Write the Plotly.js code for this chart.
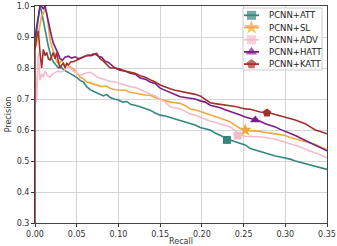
<!DOCTYPE html>
<html>
<head>
<meta charset="utf-8">
<script src="https://cdn.plot.ly/plotly-3.0.1.min.js"></script>
<style>html,body{margin:0;padding:0;background:#fff;}#chart{width:337px;height:246px;}</style>
</head>
<body>
<div id="chart"></div>
<script>
// ---- data ----
const seriesNames = ["PCNN+ATT", "PCNN+SL", "PCNN+ADV", "PCNN+HATT", "PCNN+KATT"];

const attRecall = [0,0.002,0.004,0.006,0.008,0.010,0.012,0.014,0.016,0.018,0.020,0.022,0.025,0.028,0.031,0.034,0.037,0.040,0.043,0.046,0.050,0.054,0.058,0.062,0.066,0.070,0.074,0.078,0.082,0.086,0.090,0.095,0.100,0.105,0.110,0.115,0.120,0.126,0.132,0.138,0.144,0.150,0.156,0.162,0.168,0.174,0.180,0.186,0.192,0.198,0.204,0.210,0.216,0.222,0.228,0.234,0.240,0.246,0.252,0.258,0.264,0.270,0.276,0.282,0.288,0.294,0.300,0.306,0.312,0.318,0.324,0.330,0.336,0.342,0.350];
const attPrecision = [0.88,0.92,0.97,1.0,0.98,0.95,0.92,0.89,0.87,0.85,0.83,0.82,0.81,0.80,0.805,0.795,0.79,0.785,0.78,0.775,0.77,0.76,0.755,0.74,0.73,0.725,0.72,0.713,0.71,0.715,0.705,0.70,0.697,0.69,0.692,0.682,0.68,0.675,0.67,0.664,0.655,0.648,0.645,0.64,0.636,0.632,0.625,0.62,0.616,0.608,0.604,0.60,0.59,0.582,0.575,0.568,0.562,0.558,0.552,0.54,0.535,0.529,0.524,0.519,0.516,0.513,0.51,0.506,0.50,0.496,0.49,0.487,0.482,0.478,0.473];

const slRecall = [0,0.002,0.004,0.006,0.008,0.010,0.012,0.014,0.016,0.018,0.020,0.022,0.024,0.026,0.029,0.032,0.035,0.038,0.041,0.044,0.047,0.050,0.054,0.058,0.062,0.066,0.070,0.075,0.080,0.085,0.090,0.096,0.102,0.108,0.114,0.120,0.126,0.132,0.138,0.144,0.150,0.156,0.162,0.168,0.174,0.180,0.186,0.192,0.198,0.204,0.210,0.216,0.222,0.228,0.234,0.240,0.246,0.252,0.258,0.264,0.270,0.276,0.282,0.288,0.294,0.300,0.306,0.312,0.318,0.324,0.330,0.336,0.342,0.350];
const slPrecision = [0.86,0.88,0.91,0.94,0.97,0.975,0.99,0.98,0.93,0.89,0.87,0.855,0.84,0.82,0.815,0.825,0.81,0.812,0.805,0.80,0.795,0.785,0.77,0.765,0.755,0.752,0.748,0.745,0.74,0.742,0.735,0.73,0.73,0.728,0.722,0.72,0.716,0.713,0.712,0.705,0.70,0.697,0.69,0.688,0.686,0.678,0.668,0.665,0.66,0.655,0.648,0.644,0.638,0.632,0.626,0.615,0.605,0.60,0.597,0.598,0.594,0.592,0.59,0.588,0.585,0.582,0.576,0.572,0.568,0.562,0.558,0.553,0.545,0.537];

const advRecall = [0,0.001,0.002,0.003,0.004,0.005,0.006,0.008,0.010,0.012,0.015,0.018,0.021,0.024,0.027,0.030,0.034,0.038,0.042,0.046,0.050,0.054,0.058,0.062,0.066,0.070,0.075,0.080,0.085,0.090,0.096,0.102,0.108,0.114,0.120,0.126,0.132,0.138,0.144,0.150,0.156,0.162,0.168,0.174,0.180,0.186,0.192,0.198,0.204,0.210,0.216,0.222,0.228,0.234,0.240,0.246,0.252,0.258,0.264,0.270,0.276,0.282,0.288,0.294,0.300,0.306,0.312,0.318,0.324,0.330,0.336,0.342,0.350];
const advPrecision = [0.80,0.72,0.69,0.78,0.85,0.80,0.76,0.78,0.77,0.79,0.775,0.77,0.78,0.785,0.79,0.787,0.79,0.80,0.80,0.79,0.785,0.777,0.78,0.785,0.787,0.78,0.77,0.765,0.76,0.757,0.755,0.75,0.745,0.74,0.738,0.73,0.722,0.716,0.71,0.70,0.69,0.675,0.672,0.668,0.66,0.652,0.648,0.642,0.636,0.628,0.625,0.62,0.614,0.61,0.598,0.582,0.58,0.578,0.578,0.578,0.576,0.574,0.57,0.565,0.56,0.557,0.552,0.545,0.538,0.532,0.527,0.52,0.51];

const hattRecall = [0,0.002,0.004,0.006,0.008,0.010,0.012,0.014,0.016,0.018,0.020,0.022,0.024,0.026,0.028,0.030,0.033,0.036,0.040,0.044,0.048,0.052,0.056,0.060,0.064,0.068,0.072,0.076,0.080,0.084,0.088,0.092,0.096,0.102,0.108,0.114,0.120,0.126,0.132,0.138,0.144,0.150,0.156,0.162,0.168,0.174,0.180,0.186,0.192,0.198,0.204,0.210,0.216,0.222,0.228,0.234,0.240,0.246,0.252,0.258,0.264,0.270,0.276,0.282,0.288,0.294,0.300,0.306,0.312,0.318,0.324,0.330,0.336,0.342,0.350];
const hattPrecision = [0.90,0.93,0.96,1.0,1.0,0.99,1.0,0.975,0.94,0.92,0.90,0.88,0.87,0.86,0.845,0.83,0.826,0.835,0.838,0.832,0.836,0.83,0.835,0.838,0.842,0.84,0.845,0.838,0.835,0.822,0.818,0.81,0.80,0.793,0.79,0.783,0.78,0.768,0.764,0.755,0.75,0.735,0.728,0.72,0.715,0.707,0.705,0.703,0.70,0.694,0.69,0.68,0.676,0.672,0.665,0.66,0.655,0.648,0.642,0.638,0.632,0.628,0.62,0.616,0.61,0.602,0.596,0.59,0.582,0.574,0.566,0.557,0.55,0.543,0.533];

const kattRecall = [0,0,0.002,0.004,0.006,0.008,0.010,0.012,0.014,0.016,0.018,0.020,0.022,0.024,0.026,0.028,0.030,0.032,0.034,0.036,0.038,0.040,0.043,0.046,0.050,0.054,0.058,0.062,0.066,0.070,0.074,0.078,0.082,0.086,0.090,0.096,0.102,0.108,0.114,0.120,0.126,0.132,0.138,0.144,0.150,0.156,0.162,0.168,0.174,0.180,0.186,0.192,0.198,0.204,0.210,0.216,0.222,0.228,0.234,0.240,0.246,0.252,0.258,0.264,0.270,0.276,0.282,0.288,0.294,0.300,0.306,0.312,0.318,0.324,0.330,0.336,0.342,0.350];
const kattPrecision = [0.25,0.86,0.90,0.92,0.85,0.80,0.86,0.84,0.85,0.83,0.826,0.84,0.85,0.83,0.85,0.82,0.80,0.81,0.815,0.80,0.815,0.81,0.82,0.82,0.825,0.83,0.835,0.84,0.84,0.845,0.847,0.83,0.822,0.81,0.80,0.80,0.797,0.79,0.787,0.783,0.775,0.77,0.762,0.755,0.745,0.738,0.733,0.728,0.725,0.723,0.72,0.715,0.71,0.70,0.688,0.685,0.683,0.68,0.678,0.676,0.672,0.668,0.667,0.662,0.658,0.657,0.655,0.65,0.646,0.642,0.636,0.632,0.626,0.62,0.61,0.60,0.595,0.588];

// one highlighted marker per curve
const markerRecall = [0.230, 0.252, 0.243, 0.264, 0.278];
const markerPrecision = [0.568, 0.600, 0.582, 0.632, 0.655];

// ---- styles ----
const colors = ["#35877c", "#f0a83c", "#f4bccb", "#7a1e86", "#a3312b"];
const symbols = ["square", "star", "square", "triangle-up", "pentagon"];
const msizes = [8, 10, 8, 9, 9];
const recalls = [attRecall, slRecall, advRecall, hattRecall, kattRecall];
const precisions = [attPrecision, slPrecision, advPrecision, hattPrecision, kattPrecision];

const traces = [];
for (let i = 0; i < seriesNames.length; i++) {
  traces.push({
    x: recalls[i], y: precisions[i], type: "scatter", mode: "lines",
    line: {color: colors[i], width: 1.6}, showlegend: false, hoverinfo: "skip"
  });
}
for (let i = 0; i < seriesNames.length; i++) {
  traces.push({
    x: [markerRecall[i]], y: [markerPrecision[i]], type: "scatter", mode: "markers",
    marker: {color: colors[i], symbol: symbols[i], size: msizes[i], line: {width: 0}},
    showlegend: false, hoverinfo: "skip"
  });
}

// ---- custom legend drawn in pixel-like overlay axes ----
const legRows = [15.3, 27.5, 39.7, 51.9, 64.1];
traces.push({
  x: [243, 322, 322, 243, 243], y: [8, 8, 70, 70, 8], xaxis: "x2", yaxis: "y2",
  type: "scatter", mode: "lines", fill: "toself", fillcolor: "rgba(255,255,255,0.9)",
  line: {color: "#cccccc", width: 1}, showlegend: false, hoverinfo: "skip"
});
const annotations = [];
for (let i = 0; i < seriesNames.length; i++) {
  traces.push({
    x: [244, 251.5, 259], y: [legRows[i], legRows[i], legRows[i]], xaxis: "x2", yaxis: "y2",
    type: "scatter", mode: "lines+markers", line: {color: colors[i], width: 1.8},
    marker: {color: colors[i], symbol: symbols[i], size: [0, msizes[i] + 1, 0], line: {width: 0}},
    showlegend: false, hoverinfo: "skip"
  });
  annotations.push({
    xref: "x2", yref: "y2", x: 267, y: legRows[i], text: seriesNames[i],
    xanchor: "left", yanchor: "middle", showarrow: false,
    font: {family: "DejaVu Sans", size: 8.5, color: "#222"}
  });
}

const tickFont = {family: "DejaVu Sans", size: 8, color: "#333"};
const layout = {
  width: 337, height: 246,
  margin: {l: 35, r: 10, t: 6, b: 23, pad: 0},
  paper_bgcolor: "#fff", plot_bgcolor: "#fff",
  showlegend: false,
  font: {family: "DejaVu Sans", size: 8, color: "#333"},
  xaxis: {
    range: [0, 0.35], dtick: 0.05, tick0: 0, tickformat: ".2f",
    showgrid: true, gridcolor: "#d4d4d4", gridwidth: 1, zeroline: false,
    showline: true, linecolor: "#444", linewidth: 1, mirror: true,
    ticks: "outside", ticklen: 3, tickcolor: "#333", tickfont: tickFont,
    title: {text: "Recall", font: {family: "DejaVu Sans", size: 8, color: "#333"}, standoff: 3},
    automargin: false
  },
  yaxis: {
    range: [0.3, 1.0], dtick: 0.1, tick0: 0.3, tickformat: ".1f",
    showgrid: true, gridcolor: "#d4d4d4", gridwidth: 1, zeroline: false,
    showline: true, linecolor: "#444", linewidth: 1, mirror: true,
    ticks: "outside", ticklen: 3, tickcolor: "#333", tickfont: tickFont,
    title: {text: "Precision", font: {family: "DejaVu Sans", size: 8, color: "#333"}, standoff: 3},
    automargin: false
  },
  xaxis2: {overlaying: "x", anchor: "y2", range: [35, 327], visible: false, fixedrange: true},
  yaxis2: {overlaying: "y", anchor: "x2", range: [223, 6], visible: false, fixedrange: true},
  annotations: annotations
};

Plotly.newPlot("chart", traces, layout, {staticPlot: true, displayModeBar: false});
</script>
</body>
</html>
